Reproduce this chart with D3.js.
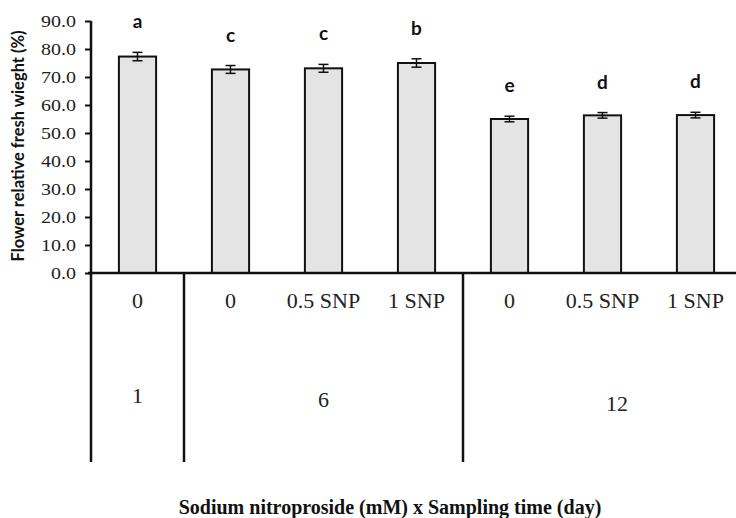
<!DOCTYPE html>
<html>
<head>
<meta charset="utf-8">
<script src="https://cdn.jsdelivr.net/npm/d3@7"></script>
<style>
  body { margin: 0; background: #fff; }
  svg { display: block; }
</style>
</head>
<body>
<script>
const w = 736;
const h = 518;

// data
const treatments = ["0", "0", "0.5 SNP", "1 SNP", "0", "0.5 SNP", "1 SNP"];
const days = ["1", "6", "6", "6", "12", "12", "12"];
const groups = ["1", "6", "12"];
const freshWeight = [77.3, 72.7, 73.1, 75.0, 55.0, 56.3, 56.4];
const stdErr = [1.5, 1.4, 1.4, 1.5, 1.0, 1.0, 1.0];
const letters = ["a", "c", "c", "b", "e", "d", "d"];
const yTicks = [0, 10, 20, 30, 40, 50, 60, 70, 80, 90];

const mLeft = 91, mTop = 21, mBottom = 273, lineEnd = 462;

let svg = d3.select("body")
            .append("svg")
                .attr("width", w)
                .attr("height", h);

let idx = d3.range(freshWeight.length);

let x = d3.scaleBand()
    .domain(idx)
    .range([mLeft, mLeft + 93 * idx.length])
    .paddingInner(0.6)
    .paddingOuter(0.3);

let y = d3.scaleLinear()
    .domain([0, 90])
    .range([mBottom, mTop]);

// bars
svg.selectAll("rect.bar")
    .data(idx)
    .enter()
    .append("rect")
    .attr("class", "bar")
    .attr("x", (i) => x(i))
    .attr("y", (i) => y(freshWeight[i]))
    .attr("width", x.bandwidth())
    .attr("height", (i) => y(0) - y(freshWeight[i]))
    .attr("fill", "#e4e4e4")
    .attr("stroke", "#111")
    .attr("stroke-width", 2);

// error bars
let eb = svg.append("g").attr("stroke", "#111").attr("stroke-width", 1.5);
idx.forEach((i) => {
    let cx = x(i) + x.bandwidth() / 2;
    let lo = y(freshWeight[i] - stdErr[i]), hi = y(freshWeight[i] + stdErr[i]);
    eb.append("line").attr("x1", cx).attr("x2", cx).attr("y1", lo).attr("y2", hi);
    eb.append("line").attr("x1", cx - 5).attr("x2", cx + 5).attr("y1", lo).attr("y2", lo);
    eb.append("line").attr("x1", cx - 5).attr("x2", cx + 5).attr("y1", hi).attr("y2", hi);
});

// significance letters
svg.selectAll("text.sig")
    .data(idx)
    .enter()
    .append("text")
    .attr("class", "sig")
    .attr("x", (i) => x(i) + x.bandwidth() / 2)
    .attr("y", (i) => y(freshWeight[i] + stdErr[i]) - 24)
    .attr("text-anchor", "middle")
    .attr("fill", "#111")
    .style("font-family", "Lato, 'Open Sans', sans-serif")
    .style("font-weight", "bold")
    .style("font-size", "19px")
    .text((i) => letters[i]);

// y axis
let yAxis = svg.append("g")
    .attr("transform", "translate(" + mLeft + ",0)")
    .call(d3.axisLeft(y).tickValues(yTicks).tickSize(6).tickFormat(d3.format(".1f")));
yAxis.select(".domain").remove();
yAxis.selectAll(".tick line").attr("stroke", "#111").attr("stroke-width", 2);
yAxis.selectAll(".tick text")
    .attr("x", -15 / 1.25)
    .attr("transform", "scale(1.25,1)")
    .attr("fill", "#222")
    .style("font-family", "'Liberation Serif', serif")
    .style("font-size", "16px");

// axis lines and group separators
let lines = svg.append("g").attr("stroke", "#111").attr("stroke-width", 2.5);
lines.append("line").attr("x1", mLeft).attr("x2", mLeft).attr("y1", mTop).attr("y2", lineEnd);
lines.append("line").attr("x1", mLeft - 3).attr("x2", w).attr("y1", mBottom).attr("y2", mBottom);

let groupStart = groups.map((g) => idx.find((i) => days[i] === g));
let groupEnd = groups.map((g) => idx.filter((i) => days[i] === g).pop());
groupStart.slice(1).forEach((i) => {
    let sx = x(i) - x.step() * x.paddingInner() / 2;
    lines.append("line").attr("x1", sx).attr("x2", sx).attr("y1", mBottom).attr("y2", lineEnd);
});

// treatment labels
svg.selectAll("text.cat")
    .data(idx)
    .enter()
    .append("text")
    .attr("class", "cat")
    .attr("x", (i) => x(i) + x.bandwidth() / 2)
    .attr("y", 308)
    .attr("text-anchor", "middle")
    .attr("fill", "#222")
    .style("font-family", "'Liberation Serif', serif")
    .style("font-size", "22px")
    .text((i) => treatments[i]);

// sampling day labels
svg.selectAll("text.grp")
    .data(groups)
    .enter()
    .append("text")
    .attr("class", "grp")
    .attr("x", (g, k) => {
        let a = x(groupStart[k]) - x.step() * x.paddingInner() / 2;
        let b = k === groups.length - 1 ? 771 : x(groupEnd[k]) + x.bandwidth() + x.step() * x.paddingInner() / 2;
        return (a + b) / 2;
    })
    .attr("y", (g, k) => 403 + 4 * k)
    .attr("text-anchor", "middle")
    .attr("fill", "#222")
    .style("font-family", "'Liberation Serif', serif")
    .style("font-size", "22px")
    .text((g) => g);

// axis titles
svg.append("text")
    .attr("x", 390)
    .attr("y", 514)
    .attr("text-anchor", "middle")
    .attr("fill", "#111")
    .style("font-family", "'Liberation Serif', serif")
    .style("font-weight", "bold")
    .style("font-size", "20px")
    .text("Sodium nitroproside (mM) x Sampling time (day)");

svg.append("text")
    .attr("transform", "translate(24,146) rotate(-90)")
    .attr("text-anchor", "middle")
    .attr("fill", "#111")
    .style("font-family", "Lato, 'Open Sans', sans-serif")
    .style("font-weight", "bold")
    .style("font-size", "16.5px")
    .text("Flower relative fresh wieght (%)");
</script>
</body>
</html>
